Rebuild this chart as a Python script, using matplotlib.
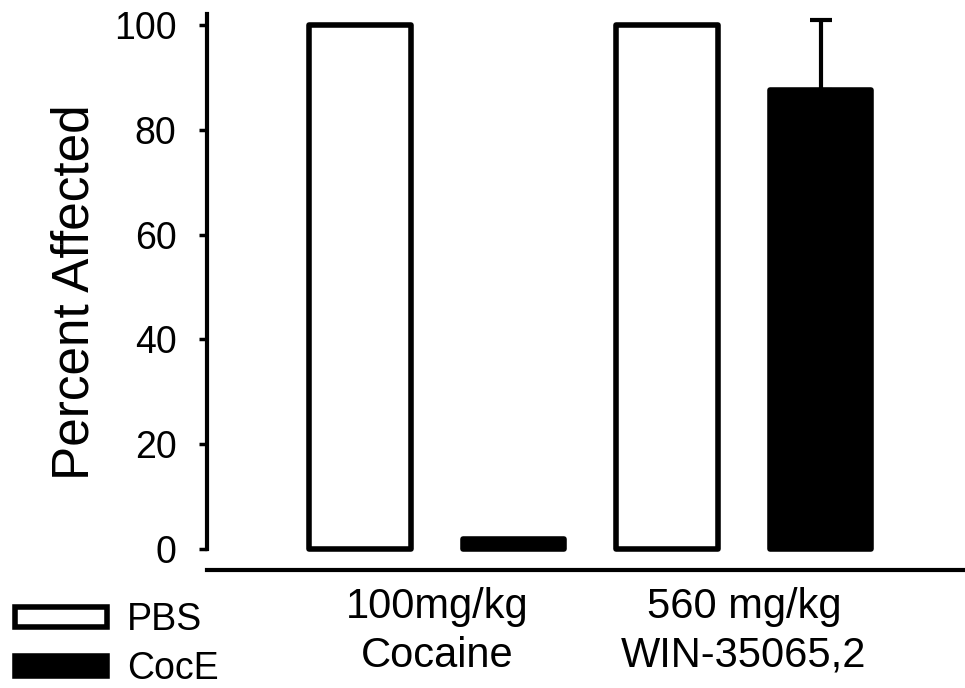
import numpy as np
import matplotlib.pyplot as plt
from matplotlib.patches import Patch

plt.rcParams['font.family'] = ['Liberation Sans', 'DejaVu Sans']

# dose groups and treatment series
groups = ['100mg/kg\nCocaine', '560 mg/kg\nWIN-35065,2']
series = ['PBS', 'CocE']
pbs_vals = [100, 100]
coce_vals = [2, 87.5]
coce_err_up = [0, 13.5]

fig = plt.figure(figsize=(9.65, 6.88), dpi=100)
ax = fig.add_axes([0.2145, 0.1715, 0.7855, 0.8076])

x = np.arange(len(groups))
width = 0.33
offset = 0.25

ax.bar(x - offset, pbs_vals, width, color='white', edgecolor='black',
       linewidth=4, joinstyle='round', label=series[0])
ax.bar(x + offset, coce_vals, width, color='black', edgecolor='black',
       linewidth=4, joinstyle='round', label=series[1])

# upward error bar only
yerr = np.array([np.zeros(len(coce_err_up)), coce_err_up])
mask = np.array(coce_err_up) > 0
ax.errorbar((x + offset)[mask], np.array(coce_vals)[mask],
            yerr=yerr[:, mask], fmt='none', ecolor='black',
            elinewidth=3, capsize=8, capthick=3)

ax.set_xlim(-0.748, 1.72)
ax.set_ylim(-4, 102)

# axis styling: detached x line, y spine from 0 up
for side in ['top', 'right']:
    ax.spines[side].set_visible(False)
ax.spines['left'].set_bounds(0, 102)
ax.spines['left'].set_linewidth(3)
ax.spines['bottom'].set_linewidth(3)

ax.set_yticks([0, 20, 40, 60, 80, 100])
ax.tick_params(axis='y', direction='out', length=6, width=2.5,
               labelsize=27, pad=16)
ax.set_xticks(x)
ax.set_xticklabels(groups, fontsize=30, linespacing=1.3)
ax.tick_params(axis='x', length=0, pad=12)

ax.set_ylabel('Percent Affected', fontsize=37, labelpad=10)

handles = [Patch(facecolor='white', edgecolor='black', linewidth=4),
           Patch(facecolor='black', edgecolor='black', linewidth=4)]
fig.legend(handles, series, loc='upper left', bbox_to_anchor=(-0.012, 0.163),
           frameon=False, fontsize=27, handlelength=2.45, handleheight=0.45,
           handletextpad=0.55, labelspacing=0.35, borderaxespad=0.3)

plt.savefig('out.png', dpi=100)
